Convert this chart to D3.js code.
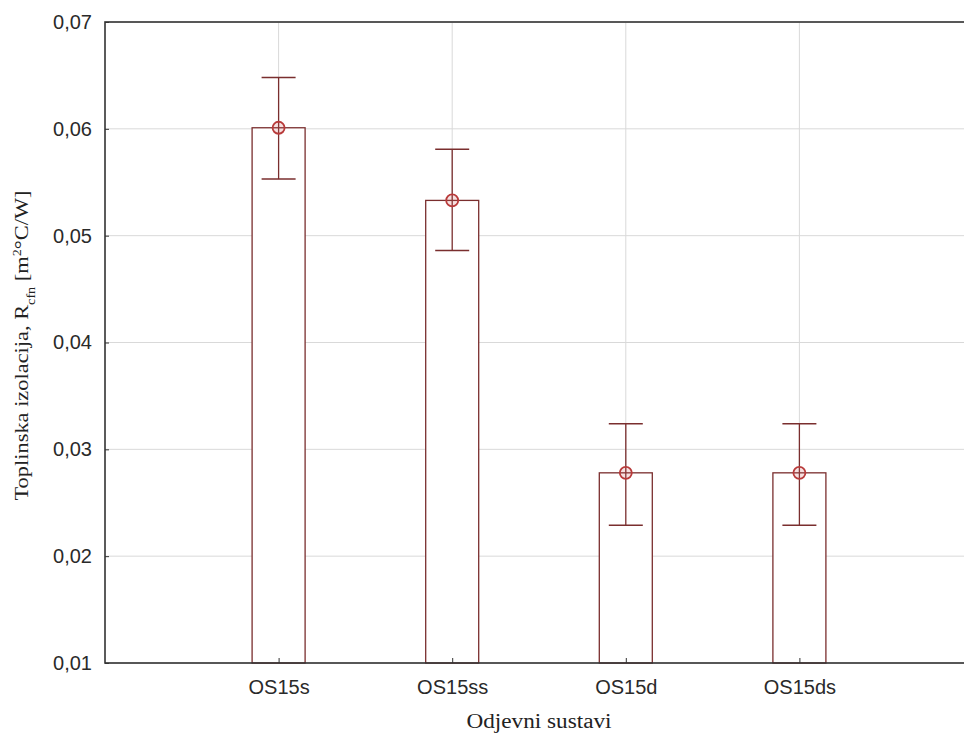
<!DOCTYPE html>
<html>
<head>
<meta charset="utf-8">
<script src="https://cdn.jsdelivr.net/npm/d3@7"></script>
<style>
  html, body { margin: 0; padding: 0; background: #fff; }
  svg { display: block; }
</style>
</head>
<body>
<svg id="chart" width="964" height="740"></svg>
<script>
const categories = ["OS15s", "OS15ss", "OS15d", "OS15ds"];
const means = [0.0601, 0.0533, 0.0278, 0.0278];
const upper = [0.0648, 0.0581, 0.0324, 0.0324];
const lower = [0.0553, 0.0486, 0.0229, 0.0229];
const yTicks = [0.01, 0.02, 0.03, 0.04, 0.05, 0.06, 0.07];
const yDomain = [0.01, 0.07];
const xTitle = "Odjevni sustavi";

const svg = d3.select("#chart");
const m = { left: 105, top: 22, right: 973, bottom: 663 };
const locale = d3.formatLocale({ decimal: ",", thousands: ".", grouping: [3], currency: ["", ""] });
const fmt = locale.format(".2f");

const x = d3.scalePoint().domain(categories).range([m.left, m.right]).padding(1);
const y = d3.scaleLinear().domain(yDomain).range([m.bottom, m.top]);

const barColor = "#7a2e2e";
const grid = "#d9d9d9";
const barW = 53, capW = 34;
const sans = "Liberation Sans, Arial, sans-serif";
const serif = "Liberation Serif, serif";

// gridlines
svg.append("g").selectAll("line.h").data(yTicks).join("line")
  .attr("x1", m.left).attr("x2", m.right)
  .attr("y1", d => y(d)).attr("y2", d => y(d))
  .attr("stroke", grid).attr("stroke-width", 1);
svg.append("g").selectAll("line.v").data(categories).join("line")
  .attr("x1", d => x(d)).attr("x2", d => x(d))
  .attr("y1", m.top).attr("y2", m.bottom)
  .attr("stroke", grid).attr("stroke-width", 1);

// bars
const data = categories.map((c, i) => ({ c, mean: means[i], hi: upper[i], lo: lower[i] }));
const g = svg.append("g");
g.selectAll("rect").data(data).join("rect")
  .attr("x", d => x(d.c) - barW / 2).attr("width", barW)
  .attr("y", d => y(d.mean)).attr("height", d => y(yDomain[0]) - y(d.mean))
  .attr("fill", "#fff").attr("stroke", barColor).attr("stroke-width", 1.3);

// error bars
g.selectAll("line.err").data(data).join("line")
  .attr("x1", d => x(d.c)).attr("x2", d => x(d.c))
  .attr("y1", d => y(d.hi)).attr("y2", d => y(d.lo))
  .attr("stroke", barColor).attr("stroke-width", 1.3);
["hi", "lo"].forEach(k => {
  g.selectAll("line.cap" + k).data(data).join("line")
    .attr("x1", d => x(d.c) - capW / 2).attr("x2", d => x(d.c) + capW / 2)
    .attr("y1", d => y(d[k])).attr("y2", d => y(d[k]))
    .attr("stroke", barColor).attr("stroke-width", 1.5);
});
g.selectAll("circle").data(data).join("circle")
  .attr("cx", d => x(d.c)).attr("cy", d => y(d.mean)).attr("r", 6)
  .attr("fill", "rgba(210,90,90,0.18)").attr("stroke", "#b83a3a").attr("stroke-width", 1.8);

// frame
svg.append("rect").attr("x", m.left).attr("y", m.top)
  .attr("width", m.right - m.left).attr("height", m.bottom - m.top)
  .attr("fill", "none").attr("stroke", "#333").attr("stroke-width", 1.6);

// axes
const yAxis = d3.axisLeft(y).tickValues(yTicks).tickFormat(fmt).tickSizeInner(-4).tickSizeOuter(0).tickPadding(13);
const ya = svg.append("g").attr("transform", `translate(${m.left},0)`).call(yAxis);
ya.select(".domain").remove();
ya.selectAll("line").attr("stroke", "#333");
ya.selectAll("text").attr("font-family", sans).attr("font-size", 20).attr("fill", "#2a2a2a");

const xAxis = d3.axisBottom(x).tickSizeInner(-5).tickSizeOuter(0).tickPadding(17);
const xa = svg.append("g").attr("transform", `translate(0,${m.bottom})`).call(xAxis);
xa.select(".domain").remove();
xa.selectAll("line").attr("stroke", "#333");
xa.selectAll("text").attr("font-family", sans).attr("font-size", 20).attr("fill", "#2a2a2a");

// titles
svg.append("text").attr("x", (m.left + m.right) / 2).attr("y", 728)
  .attr("text-anchor", "middle").attr("font-family", serif).attr("font-size", 20).attr("fill", "#222")
  .attr("textLength", 145).attr("lengthAdjust", "spacingAndGlyphs")
  .text(xTitle);

const yt = svg.append("text")
  .attr("transform", `translate(28,${(m.top + m.bottom) / 2 + 3}) rotate(-90)`)
  .attr("text-anchor", "middle").attr("font-family", serif).attr("font-size", 19).attr("fill", "#222")
  .attr("textLength", 310).attr("lengthAdjust", "spacingAndGlyphs");
yt.append("tspan").text("Toplinska izolacija, R");
yt.append("tspan").attr("baseline-shift", "sub").attr("font-size", 12).text("cfn");
yt.append("tspan").text(" [m");
yt.append("tspan").attr("baseline-shift", "super").attr("font-size", 12).text("2");
yt.append("tspan").text("°C/W]");
</script>
</body>
</html>
